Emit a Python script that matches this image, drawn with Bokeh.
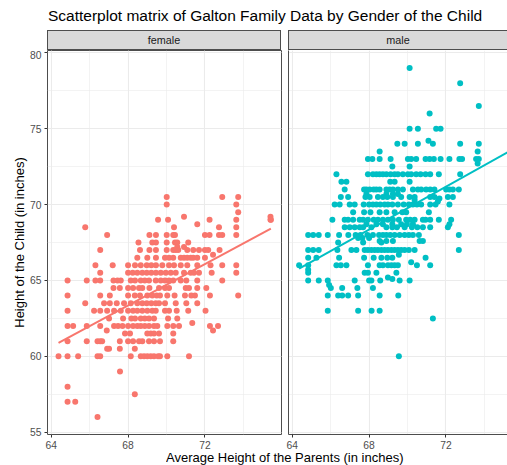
import numpy as np
from bokeh.plotting import figure
from bokeh.layouts import column, row
from bokeh.models import Div, Range1d, SingleIntervalTicker, FixedTicker, Spacer
from bokeh.embed import file_html
from bokeh.resources import INLINE

FONT = "Liberation Sans"

# Galton family data: child height grouped by value, with the mid-parent
# heights of every child of that height.
female_heights = [
    70.5, 70.0, 69.5, 69.2, 69.0, 68.7, 68.5, 68.0, 67.5, 67.2, 67.0, 66.7,
    66.5, 66.0, 65.5, 65.0, 64.5, 64.0, 63.5, 63.0, 62.5, 62.2, 62.0, 61.7,
    61.5, 61.0, 60.5, 60.0, 59.0, 58.0, 57.5, 57.0, 56.0,
]
female_parents = [
    [70.01, 72.90, 73.73],
    [70.01, 73.63],
    [73.73],
    [70.91, 75.41],
    [69.56, 70.08, 72.24, 73.63, 75.41, 75.43],
    [71.60],
    [65.77, 70.39, 72.73, 73.63],
    [66.91, 69.11, 69.45, 70.01, 70.35, 70.44, 72.00, 72.24, 72.73, 72.90, 73.63],
    [68.54, 69.26, 69.45, 70.01, 70.44, 70.56, 71.13],
    [70.91, 70.56],
    [66.55, 68.62, 69.11, 69.45, 70.01, 70.35, 70.48, 70.61, 71.08, 71.39,
     71.69, 72.00, 72.17, 72.76],
    [72.42],
    [68.48, 69.00, 69.45, 69.92, 70.13, 70.35, 70.74, 70.91, 71.08, 71.26,
     71.39, 71.60, 72.00],
    [66.30, 67.20, 68.00, 68.36, 68.66, 68.97, 69.21, 69.45, 69.78, 70.13,
     70.39, 70.74, 71.08, 71.60, 72.29, 72.90, 73.63],
    [66.55, 68.00, 68.24, 68.48, 68.74, 68.97, 69.21, 69.45, 69.70, 69.96,
     70.22, 70.48, 70.91, 71.26, 71.43, 71.69, 72.35, 73.63],
    [64.85, 65.85, 66.30, 66.55, 67.24, 67.45, 67.62, 68.14, 68.36, 68.66,
     68.87, 69.09, 69.44, 69.70, 69.92, 70.13, 70.35, 70.74, 71.03, 71.60, 72.90],
    [67.24, 67.57, 68.00, 68.26, 68.57, 68.74, 69.11, 69.61, 69.92, 70.13,
     71.00, 71.17, 71.60, 72.07],
    [64.85, 66.55, 67.05, 68.00, 68.35, 68.62, 69.00, 69.26, 69.49, 69.66,
     70.04, 70.42, 70.96, 71.29, 71.48, 72.26, 73.73],
    [65.77, 66.75, 67.05, 67.41, 67.79, 68.14, 68.48, 68.74, 68.97, 69.21,
     69.44, 69.61, 69.92, 70.48, 71.03, 71.60],
    [64.85, 66.23, 66.55, 66.91, 67.27, 67.62, 68.00, 68.26, 68.48, 68.74,
     69.00, 69.26, 69.44, 69.92, 70.13, 70.53, 71.13, 72.03],
    [67.01, 67.74, 68.17, 68.36, 68.66, 68.87, 69.09, 69.35, 70.08, 70.56],
    [71.34],
    [64.85, 65.14, 65.85, 66.55, 67.27, 67.48, 67.71, 68.00, 68.26, 68.48,
     68.66, 68.87, 69.09, 69.35, 69.52, 70.04, 70.35, 70.65, 72.26, 72.68],
    [66.89, 72.42],
    [67.84, 68.10, 69.00, 69.18, 69.35, 69.61, 70.35],
    [64.85, 65.85, 66.41, 66.55, 66.65, 67.57, 68.00, 68.26, 68.57, 68.74,
     69.09, 69.35, 69.66, 70.35],
    [66.91, 67.01, 67.57, 68.35],
    [64.38, 64.85, 65.40, 66.41, 66.55, 68.14, 68.66, 68.83, 69.00, 69.18,
     69.35, 69.56, 69.66, 70.04, 71.17],
    [67.58],
    [64.85],
    [68.35],
    [64.85, 65.25],
    [66.41],
]

male_heights = [
    79.0, 78.0, 76.5, 76.0, 75.0, 74.2, 74.0, 73.5, 73.2, 73.0, 72.7, 72.5,
    72.0, 71.5, 71.0, 70.7, 70.5, 70.4, 70.3, 70.2, 70.0, 69.5, 69.0, 68.7,
    68.5, 68.0, 67.8, 67.6, 67.5, 67.0, 66.7, 66.5, 66.2, 66.0, 65.7, 65.5,
    65.2, 65.1, 65.0, 64.7, 64.5, 64.0, 63.0, 62.5, 60.0,
]
male_parents = [
    [70.11],
    [72.74],
    [73.71],
    [71.15],
    [70.11, 70.54, 71.49, 71.72],
    [71.09],
    [69.47, 69.85, 70.54, 71.32, 72.74, 73.71],
    [68.55, 73.65],
    [75.43],
    [67.94, 68.17, 68.55, 69.12, 70.02, 70.19, 70.45, 70.94, 71.15, 71.37,
     71.72, 72.18, 72.70, 72.84, 73.57, 73.71],
    [73.65],
    [69.21, 70.11],
    [66.30, 67.94, 68.20, 68.38, 68.55, 68.72, 68.90, 69.12, 69.33, 69.50,
     69.76, 70.02, 70.19, 70.45, 70.68, 70.94, 71.18, 71.63, 72.74],
    [66.56, 66.82, 69.10, 69.33, 70.11],
    [66.73, 67.74, 67.86, 68.03, 68.24, 68.38, 68.55, 68.90, 69.07, 69.24,
     69.50, 69.76, 70.28, 70.54, 70.71, 70.97, 71.18, 71.40, 72.01, 72.18,
     72.36, 72.67],
    [67.86, 68.90, 69.24, 69.50],
    [66.53, 66.91, 67.81, 68.03, 68.46, 68.72, 68.95, 69.24, 69.67, 70.11,
     70.37, 71.18, 71.40, 72.10, 72.36],
    [71.66],
    [70.37],
    [71.58],
    [66.21, 66.47, 66.99, 67.25, 67.72, 68.00, 68.20, 68.38, 68.58, 68.81,
     68.98, 69.21, 69.50, 69.80, 70.07, 70.28, 70.49, 70.71, 71.18, 71.46, 72.18],
    [67.17, 67.74, 68.07, 68.55, 68.90, 69.33, 69.73, 69.93, 71.11],
    [66.09, 66.73, 66.91, 67.17, 67.51, 67.69, 67.94, 68.24, 68.46, 68.72,
     68.98, 69.24, 69.55, 69.93, 70.14, 70.37, 70.80, 70.94, 71.18, 71.63, 72.27],
    [67.86, 68.38, 68.72, 69.21, 69.67, 69.97, 70.28, 72.18],
    [66.73, 66.99, 67.25, 67.51, 67.69, 68.12, 68.90, 69.21, 69.45, 69.85,
     70.23, 70.51, 70.80, 71.18, 72.10],
    [64.83, 65.09, 65.38, 65.85, 66.44, 66.92, 67.30, 67.55, 67.91, 68.20,
     68.52, 68.72, 68.90, 69.10, 69.33, 69.59, 69.85, 70.07, 70.28, 70.59, 72.67],
    [67.43, 67.65, 68.00],
    [68.55, 68.90, 69.24, 70.80, 70.63],
    [66.39, 67.69, 68.64],
    [64.83, 65.09, 65.38, 66.35, 67.08, 67.34, 67.77, 67.94, 68.12, 68.29,
     68.46, 68.64, 68.81, 68.98, 69.16, 69.33, 69.50, 69.67, 69.85, 70.07,
     70.37, 72.67],
    [69.55],
    [64.83, 65.26, 66.44, 67.74, 68.24, 68.64, 68.95, 69.21, 70.94],
    [70.19],
    [64.36, 64.83, 66.30, 66.53, 66.82, 67.94, 68.55, 68.72, 68.98, 69.16,
     69.33, 69.50, 70.49, 71.18],
    [64.83],
    [64.83, 67.77, 67.94, 68.38, 69.42],
    [68.98],
    [69.21],
    [64.83, 65.38, 65.85, 67.25, 68.00, 68.12, 68.58, 69.59, 70.11],
    [65.92],
    [66.01, 66.60, 67.39, 68.20],
    [65.85, 66.39, 66.60, 66.91, 67.43, 68.55, 69.52],
    [65.85, 67.43, 68.13, 68.55],
    [71.32],
    [69.55],
]

panels = [
    ("female", female_heights, female_parents, "#F8766D"),
    ("male", male_heights, male_parents, "#00BFC4"),
]


def flatten(heights, parents):
    xs, ys = [], []
    for h, group in zip(heights, parents):
        xs.extend(group)
        ys.extend([h] * len(group))
    return np.array(xs), np.array(ys)


series = {name: flatten(h, p) for name, h, p, _ in panels}

# shared scales with a 5% margin, as in a faceted ggplot
all_x = np.concatenate([s[0] for s in series.values()])
all_y = np.concatenate([s[1] for s in series.values()])
x_pad = 0.05 * (all_x.max() - all_x.min())
y_pad = 0.05 * (all_y.max() - all_y.min())
x0, x1 = all_x.min() - x_pad, all_x.max() + x_pad
y0, y1 = all_y.min() - y_pad, all_y.max() + y_pad

BORDER = "#4D4D4D"
GRID = "#EBEBEB"
TICK_TEXT = "#4D4D4D"

FRAME_H = 384
LEFT_W = 234       # panel width of the female facet
RIGHT_W = 219      # visible part of the male facet
LEFT_GUTTER = 47


def make_panel(name, frame_w, x_end, first):
    p = figure(
        frame_width=frame_w, frame_height=FRAME_H,
        x_range=Range1d(x0, x_end), y_range=Range1d(y0, y1),
        output_backend="svg", toolbar_location=None,
        min_border_left=LEFT_GUTTER if first else 4,
        min_border_right=3 if first else 0,
        min_border_top=0, min_border_bottom=0,
        background_fill_color="white", border_fill_color="white",
    )
    xt = SingleIntervalTicker(interval=4, num_minor_ticks=2)
    yt = SingleIntervalTicker(interval=5, num_minor_ticks=2)
    p.xaxis.ticker = xt
    p.xgrid.ticker = xt
    p.ygrid.ticker = yt
    for g in (p.xgrid, p.ygrid):
        g.grid_line_color = GRID
        g.grid_line_width = 1.1
        g.minor_grid_line_color = GRID
        g.minor_grid_line_width = 0.6

    for ax in (p.xaxis, p.yaxis):
        ax.minor_tick_line_color = None
        ax.major_tick_in = 0
        ax.major_tick_out = 3
        ax.major_tick_line_color = "#333333"
        ax.major_label_text_font = FONT
        ax.major_label_text_font_size = "10.3px"
        ax.major_label_text_color = TICK_TEXT
        ax.major_label_standoff = 2

    if first:
        p.yaxis.ticker = yt
        p.outline_line_color = BORDER
        p.outline_line_width = 1
        p.xaxis.axis_line_color = None
        p.yaxis.axis_line_color = None
        p.yaxis.axis_label = "Height of the Child (in inches)"
        p.yaxis.axis_label_text_font = FONT
        p.yaxis.axis_label_text_font_size = "13px"
        p.yaxis.axis_label_text_font_style = "normal"
        p.yaxis.axis_label_text_color = "black"
        p.yaxis.axis_label_standoff = 0
    else:
        # only the panel's left edge: no ticks, no labels on this side
        p.yaxis.ticker = FixedTicker(ticks=[])
        p.outline_line_color = None
        p.xaxis.axis_line_color = BORDER
        p.yaxis.axis_line_color = BORDER
        p.yaxis.major_tick_out = 0
        p.yaxis.major_label_standoff = 0
    return p


figs = []
x_span = x1 - x0
for i, (name, _, _, color) in enumerate(panels):
    first = i == 0
    frame_w = LEFT_W if first else RIGHT_W
    x_end = x0 + x_span * frame_w / LEFT_W
    p = make_panel(name, frame_w, x_end, first)
    xs, ys = series[name]
    p.scatter(xs, ys, size=6, fill_color=color, line_color=None)
    slope, intercept = np.polyfit(xs, ys, 1)
    fx = np.array([xs.min(), xs.max()])
    p.line(fx, intercept + slope * fx, line_color=color, line_width=2)
    figs.append(p)


def strip(label, width, left_margin, right_border):
    return Div(
        text=label, width=width, height=20,
        margin=(0, 0, 0, left_margin),
        styles={
            "box-sizing": "border-box",
            "background-color": "#D9D9D9",
            "border-top": f"1px solid {BORDER}",
            "border-left": f"1px solid {BORDER}",
            "border-right": f"1px solid {BORDER}" if right_border else "none",
            "border-bottom": f"1px solid {BORDER}",
            "text-align": "center",
            "font-family": FONT,
            "font-size": "10.8px",
            "line-height": "18px",
            "color": "#1A1A1A",
        },
    )


title = Div(
    text="Scatterplot matrix of Galton Family Data by Gender of the Child",
    width=459, height=30, margin=0, align="start",
    styles={
        "text-align": "left",
        "font-family": FONT,
        "font-size": "15.5px",
        "line-height": "31px",
        "color": "black",
        "overflow": "hidden",
    },
)
title_row = row(Spacer(width=48, height=30), title, spacing=0,
                width=507, height=30, align="start")

xlabel = Div(
    text="Average Height of the Parents (in inches)",
    width=341, height=14, margin=0, align="start",
    styles={
        "text-align": "left",
        "font-family": FONT,
        "font-size": "13px",
        "line-height": "14px",
        "color": "black",
        "overflow": "hidden",
    },
)
xlabel_row = row(Spacer(width=166, height=14), xlabel, spacing=0,
                 width=507, height=14, align="start")

left_col = column(strip("female", LEFT_W, LEFT_GUTTER, True), figs[0], spacing=0)
right_col = column(strip("male", RIGHT_W, 4, False), figs[1], spacing=0)
panels_row = row(left_col, right_col, spacing=0, align="start")

layout = column(title_row, panels_row, xlabel_row, spacing=0)

open("out.html", "w").write(file_html(layout, INLINE))
